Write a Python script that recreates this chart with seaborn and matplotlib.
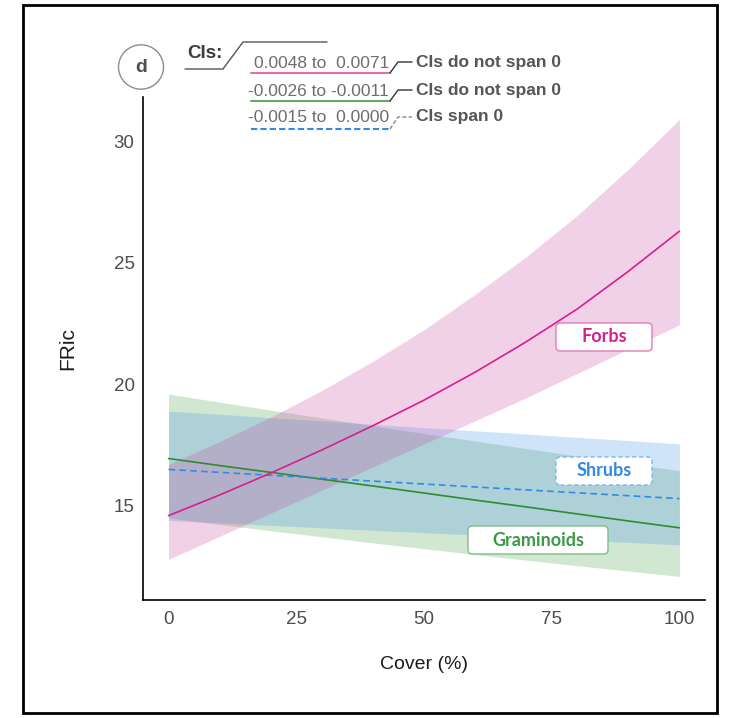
import numpy as np
import pandas as pd
import matplotlib
matplotlib.use("Agg")
import matplotlib.pyplot as plt
import seaborn as sns
from matplotlib.patches import FancyBboxPatch, Circle, Rectangle
from matplotlib.lines import Line2D

# ---- data ----
cover = [0, 10, 20, 30, 40, 50, 60, 70, 80, 90, 100]
forbs_fit = [14.6, 15.45, 16.35, 17.3, 18.3, 19.35, 20.5, 21.75, 23.1, 24.65, 26.3]
forbs_lo = [12.8, 13.75, 14.7, 15.65, 16.6, 17.55, 18.5, 19.45, 20.45, 21.45, 22.45]
forbs_hi = [16.7, 17.65, 18.65, 19.75, 20.95, 22.25, 23.7, 25.25, 26.95, 28.85, 30.9]
gram_fit = [16.95, 16.66, 16.38, 16.1, 15.82, 15.53, 15.24, 14.96, 14.67, 14.38, 14.1]
gram_lo = [14.5, 14.24, 13.98, 13.73, 13.48, 13.24, 13.0, 12.77, 12.54, 12.32, 12.1]
gram_hi = [19.6, 19.27, 18.94, 18.62, 18.3, 17.98, 17.67, 17.36, 17.05, 16.75, 16.45]
shrub_fit = [16.5, 16.38, 16.26, 16.14, 16.02, 15.9, 15.78, 15.66, 15.54, 15.42, 15.3]
shrub_lo = [14.4, 14.3, 14.2, 14.1, 14.0, 13.9, 13.8, 13.7, 13.6, 13.5, 13.4]
shrub_hi = [18.9, 18.77, 18.63, 18.5, 18.36, 18.22, 18.09, 17.96, 17.82, 17.69, 17.55]
groups = ["Graminoids", "Shrubs", "Forbs"]
ci_text = ["0.0048 to  0.0071", "-0.0026 to -0.0011", "-0.0015 to  0.0000"]
ci_note = ["CIs do not span 0", "CIs do not span 0", "CIs span 0"]
x_ticks = [0, 25, 50, 75, 100]
y_ticks = [15, 20, 25, 30]

line_col = {"Forbs": "#D4208F", "Graminoids": "#2E8B2E", "Shrubs": "#2F8BE6"}
fill_col = {"Forbs": "#CB4BA3", "Graminoids": "#4BA34B", "Shrubs": "#4393EB"}
text_col = {"Forbs": "#D4208F", "Graminoids": "#3A9A48", "Shrubs": "#2F8BE6"}

rows = []
for g, fit, lo, hi in [("Graminoids", gram_fit, gram_lo, gram_hi),
                       ("Shrubs", shrub_fit, shrub_lo, shrub_hi),
                       ("Forbs", forbs_fit, forbs_lo, forbs_hi)]:
    for c, f, l, h in zip(cover, fit, lo, hi):
        rows.append({"group": g, "cover": c, "fit": f, "lo": l, "hi": h})
df = pd.DataFrame(rows)

sns.set_theme(style="white")
plt.rcParams["font.family"] = ["Liberation Sans", "DejaVu Sans"]

W, H = 729, 718
fig = plt.figure(figsize=(W / 100, H / 100), dpi=100)
ax = fig.add_axes([143 / W, 1 - 600 / H, (705 - 143) / W, (600 - 97) / H])

def P(x, y):
    return (x / W, 1 - y / H)

# ribbons
for g in groups:
    d = df[df.group == g]
    ax.fill_between(d["cover"], d["lo"], d["hi"], color=fill_col[g], alpha=0.25, lw=0, zorder=1)

sns.lineplot(data=df, x="cover", y="fit", hue="group", style="group",
             palette=line_col, hue_order=groups, style_order=groups,
             dashes={"Graminoids": "", "Shrubs": (4, 2.5), "Forbs": ""},
             linewidth=1.2, legend=False, ax=ax, zorder=3)

ax.set_xlim(-5, 105)
ax.set_ylim(11.13, 31.82)
ax.set_xticks(x_ticks)
ax.set_yticks(y_ticks)
ax.tick_params(axis="both", length=3, width=0.9, color="#333333", labelsize=13.5,
               labelcolor="#4D4D4D", direction="out")
ax.tick_params(axis="x", pad=5)
ax.tick_params(axis="y", pad=3)
ax.set_xlabel("Cover (%)", fontsize=14, color="#1A1A1A", labelpad=20)
ax.set_ylabel("FRic", fontsize=15, color="#1A1A1A", labelpad=26)
for s in ["top", "right"]:
    ax.spines[s].set_visible(False)
for s in ["left", "bottom"]:
    ax.spines[s].set_color("#000000")
    ax.spines[s].set_linewidth(1.2)

# group labels (boxes)
def label_box(cx, cy, w, h, text, ec, tc, ls="solid"):
    x0, y0 = P(cx - w / 2, cy + h / 2)
    x1, y1 = P(cx + w / 2, cy - h / 2)
    box = FancyBboxPatch((x0, y0), x1 - x0, y1 - y0,
                         boxstyle="round,pad=0,rounding_size=0.006",
                         transform=fig.transFigure, facecolor="white",
                         edgecolor=ec, lw=1.0, linestyle=ls, zorder=5)
    fig.patches.append(box)
    fig.text(*P(cx, cy), text, ha="center", va="center", fontsize=13,
             fontweight="bold", color=tc, family=["Lato", "DejaVu Sans"], zorder=6)

label_box(604, 337, 96, 28, "Forbs", "#E07DB8", text_col["Forbs"])
label_box(604, 471, 96, 28, "Shrubs", "#7DB6EE", text_col["Shrubs"], ls=(0, (3, 2)))
label_box(538, 540, 140, 28, "Graminoids", "#7FBF86", text_col["Graminoids"])

# panel tag
circ = Circle(P(141, 67), radius=22.5 / W, transform=fig.transFigure,
              facecolor="white", edgecolor="#8C8C8C", lw=1.0)
fig.patches.append(circ)
fig.text(*P(141, 67), "d", ha="center", va="center", fontsize=14,
         fontweight="bold", color="#505050")

# CIs header
fig.text(*P(205, 53), "CIs:", ha="center", va="center", fontsize=13.5,
         fontweight="bold", color="#3C3C3C")
xs, ys = zip(*[P(185, 69), P(223, 69), P(243, 42), P(327, 42)])
fig.add_artist(Line2D(xs, ys, color="#555555", lw=1.0))

row_y = [63, 91, 118]
ul_y = [73, 101, 129]
ul_col = ["#E36DB4", "#5FAE64", "#2F8BE6"]
ul_ls = ["-", "-", (0, (3, 1.5))]
con_ls = ["-", "-", (0, (3, 1.5))]
con_col = ["#333333", "#333333", "#888888"]
for i in range(3):
    fig.text(*P(389, row_y[i]), ci_text[i], ha="right", va="center", fontsize=12.5,
             color="#6E6E6E")
    xs, ys = zip(*[P(251, ul_y[i]), P(390, ul_y[i])])
    fig.add_artist(Line2D(xs, ys, color=ul_col[i], lw=1.5, linestyle=ul_ls[i]))
    xs, ys = zip(*[P(390, ul_y[i]), P(398, row_y[i] - 1), P(412, row_y[i] - 1)])
    fig.add_artist(Line2D(xs, ys, color=con_col[i], lw=1.0, linestyle=con_ls[i]))
    fig.text(*P(416, row_y[i] - 1), ci_note[i], ha="left", va="center", fontsize=12.5,
             fontweight="bold", color="#555555")

# outer border
x0, y0 = P(23, 713)
x1, y1 = P(717, 5)
fig.patches.append(Rectangle((x0, y0), x1 - x0, y1 - y0, transform=fig.transFigure,
                             fill=False, edgecolor="black", lw=2))

fig.savefig("out.png", dpi=100)
